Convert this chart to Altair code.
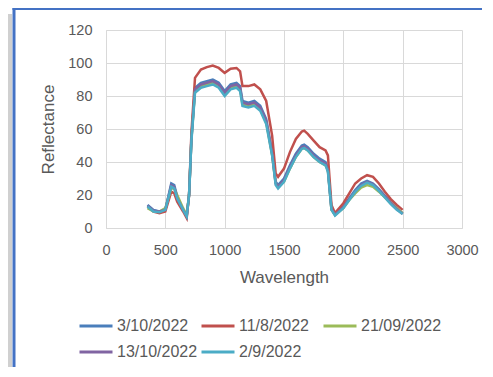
import altair as alt
import pandas as pd

wavelength = [350, 400, 450, 500, 550, 575, 600, 650, 680, 700, 720, 750, 800, 850, 900, 950,
              1000, 1050, 1100, 1130, 1150, 1200, 1250, 1300, 1350, 1400, 1430, 1450, 1500,
              1550, 1600, 1650, 1670, 1700, 1750, 1800, 1850, 1870, 1900, 1930, 2000, 2050,
              2100, 2150, 2200, 2250, 2300, 2350, 2400, 2450, 2500]

s_3_10 = [14, 11, 10, 11, 27, 26, 19, 11, 7, 20, 55, 85, 88, 89, 90, 88,
          83, 87, 88, 86, 77, 76, 77, 74, 66, 46, 28, 26, 30,
          38, 45, 50, 50.5, 49, 45, 42, 40, 36, 12, 8, 13, 18,
          23, 27, 28.5, 27, 23.5, 19.5, 15.5, 12, 9]
s_11_8 = [13, 10, 9, 10, 22, 21, 16, 10, 6, 20, 58, 91, 96, 97.5, 98.5, 97,
          94, 96.5, 97, 95, 86, 86, 87, 84, 77, 56, 33, 31, 36,
          46, 54, 58.5, 59, 57, 53, 49, 47, 44, 14, 9, 15, 21,
          27, 30, 32, 31, 27, 22, 17.5, 14, 11]
s_21_09 = [12, 10, 10, 12, 24, 24, 20, 12, 8, 20, 54, 83, 86, 87, 88, 86,
           81, 85, 86, 84, 75, 74, 75, 72, 64, 44, 27, 25, 28,
           36, 43, 48, 48.5, 47, 43, 40, 38, 35, 11, 8, 12, 17,
           21, 24.5, 26, 25, 22, 18.5, 15, 12, 9]
s_13_10 = [13.5, 10.5, 10, 11, 26, 25, 18, 11, 7, 20, 54, 84, 87, 88, 89, 87,
           82, 86, 87, 85, 76, 75, 76, 73, 65, 45, 27, 25, 29,
           37, 44, 49, 49.5, 48, 44, 41, 39, 35, 11.5, 8, 12.5, 17.5,
           22, 26, 28, 26.5, 23, 19, 15, 11.5, 8.5]
s_2_9 = [13, 10, 9.5, 11, 25, 24, 18, 11, 7, 20, 53, 82, 85, 86, 87, 85,
         80, 84, 85, 83, 74, 73, 74, 71, 63, 44, 26, 24, 28,
         36, 43, 48, 48.5, 47, 43, 40, 38, 34, 11, 7.5, 12, 17,
         22, 25.5, 27.5, 26, 22.5, 18.5, 14.5, 11, 8.5]

series_names = ["3/10/2022", "11/8/2022", "21/09/2022", "13/10/2022", "2/9/2022"]
series_values = [s_3_10, s_11_8, s_21_09, s_13_10, s_2_9]
colors = ["#4A7EBB", "#C0504D", "#9BBB59", "#8064A2", "#4BACC6"]

rows = []
for i, (name, vals) in enumerate(zip(series_names, series_values)):
    for w, v in zip(wavelength, vals):
        rows.append({"Wavelength": w, "Reflectance": v, "Series": name, "ord": i})
df = pd.DataFrame(rows)

FONT = "Liberation Sans"
GREY = "#595959"

lines = alt.Chart(df).mark_line(strokeWidth=2.5).encode(
    x=alt.X("Wavelength:Q",
            scale=alt.Scale(domain=[0, 3000], nice=False),
            axis=alt.Axis(values=[0, 500, 1000, 1500, 2000, 2500, 3000], format="d",
                          labelFlush=False,
                          title="Wavelength", titlePadding=13, labelPadding=15)),
    y=alt.Y("Reflectance:Q",
            scale=alt.Scale(domain=[0, 120], nice=False),
            axis=alt.Axis(values=[0, 20, 40, 60, 80, 100, 120], format="d",
                          labelFlush=False,
                          title="Reflectance", titlePadding=10, labelPadding=14)),
    color=alt.Color("Series:N",
                    scale=alt.Scale(domain=series_names, range=colors),
                    sort=series_names,
                    legend=alt.Legend(title=None, orient="none", legendX=-28, legendY=278,
                                      direction="horizontal", columns=3, gridAlign="all",
                                      symbolType="stroke", symbolSize=1089,
                                      symbolStrokeWidth=3, labelFontSize=16,
                                      labelColor=GREY, labelFont=FONT,
                                      columnPadding=-3, rowPadding=-1, labelOffset=3)),
    detail="Series:N",
    order="ord:Q",
)

one = alt.Data(values=[{"a": 1}])
frame_left = alt.Chart(one).mark_rule(color="#4472C4", strokeWidth=3).encode(
    x=alt.value(-92), y=alt.value(-22), y2=alt.value(350))
frame_top = alt.Chart(one).mark_rule(color="#4472C4", strokeWidth=3).encode(
    x=alt.value(-93.5), x2=alt.value(400), y=alt.value(-21.5))
shadow = alt.Chart(one).mark_rule(color="#D0D0D0", strokeWidth=4).encode(
    x=alt.value(-96), y=alt.value(-16), y2=alt.value(350))

chart = alt.layer(shadow, frame_left, frame_top, lines).properties(
    width=356, height=198,
    padding={"left": 98, "top": 22, "right": 20, "bottom": 139},
    autosize=alt.AutoSizeParams(type="none"),
    background="white",
).configure_view(stroke=None).configure_axis(
    grid=True, gridColor="#D9D9D9", domainColor="#D9D9D9", ticks=False,
    labelColor=GREY, titleColor=GREY, labelFont=FONT, titleFont=FONT,
    labelFontSize=14.5, titleFontSize=17, titleFontWeight="normal",
)

chart.save("out.html", embed_options={"renderer": "svg", "actions": False})
